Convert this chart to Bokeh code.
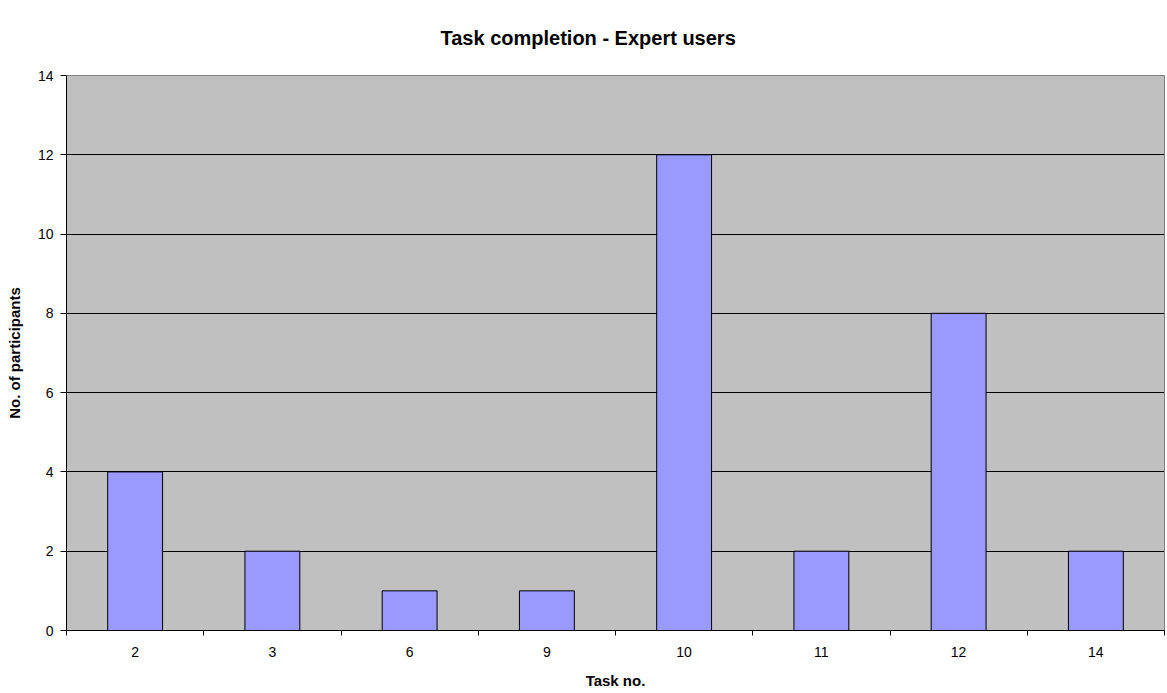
from bokeh.plotting import figure
from bokeh.models import FixedTicker, ColumnDataSource
from bokeh.embed import file_html
from bokeh.resources import INLINE

# Task numbers and how many expert users completed each one
tasks = ["2", "3", "6", "9", "10", "11", "12", "14"]
participants = [4, 2, 1, 1, 12, 2, 8, 2]
y_ticks = [0, 2, 4, 6, 8, 10, 12, 14]

positions = [i + 0.5 for i in range(len(tasks))]
source = ColumnDataSource(dict(x=positions, top=participants, task=tasks))

p = figure(
    width=1167, height=693,
    x_range=(0, len(tasks)), y_range=(0, 14),
    output_backend="svg", toolbar_location=None,
    min_border_left=66, min_border_right=3,
    min_border_top=75, min_border_bottom=63,
    title="Task completion - Expert users",
)
p.background_fill_color = "#C0C0C0"
p.border_fill_color = "white"
p.outline_line_color = "#808080"
p.outline_line_width = 1

# heading above the plot frame
p.title.align = "left"
p.title.offset = 374
p.title.standoff = 49
p.title.vertical_align = "top"
p.title.text_font = "Liberation Sans"
p.title.text_font_style = "bold"
p.title.text_font_size = "20px"
p.title.text_color = "#000000"

p.vbar(x="x", top="top", width=0.4, bottom=0, source=source,
       fill_color="#9999FF", line_color="#000000", line_width=1)

# x axis: labels at category centres, tick marks between categories
xa = p.xaxis[0]
xa.ticker = FixedTicker(ticks=positions, minor_ticks=list(range(len(tasks) + 1)))
xa.major_label_overrides = {pos: t for pos, t in zip(positions, tasks)}
xa.major_tick_out = 0
xa.major_tick_in = 0
xa.minor_tick_out = 5
xa.minor_tick_in = 0
xa.minor_tick_line_color = "black"
xa.axis_line_color = "black"
xa.major_label_text_font = "Liberation Sans"
xa.major_label_text_font_size = "14px"
xa.major_label_text_color = "#000000"
xa.major_label_standoff = 11
xa.axis_label = "Task no."
xa.axis_label_text_font = "Liberation Sans"
xa.axis_label_text_font_style = "bold"
xa.axis_label_text_font_size = "15px"
xa.axis_label_text_color = "#000000"
xa.axis_label_standoff = 12

ya = p.yaxis[0]
ya.ticker = FixedTicker(ticks=y_ticks)
ya.minor_tick_line_color = None
ya.major_tick_out = 6
ya.major_tick_in = 0
ya.major_tick_line_color = "black"
ya.axis_line_color = "black"
ya.major_label_text_font = "Liberation Sans"
ya.major_label_text_font_size = "14px"
ya.major_label_text_color = "#000000"
ya.major_label_standoff = 7
ya.axis_label = "No. of participants"
ya.axis_label_text_font = "Liberation Sans"
ya.axis_label_text_font_style = "bold"
ya.axis_label_text_font_size = "15px"
ya.axis_label_text_color = "#000000"
ya.axis_label_standoff = 12

p.xgrid.grid_line_color = None
p.ygrid.ticker = FixedTicker(ticks=y_ticks)
p.ygrid.grid_line_color = "black"
p.ygrid.grid_line_alpha = 1.0

open("out.html", "w").write(file_html(p, INLINE))
